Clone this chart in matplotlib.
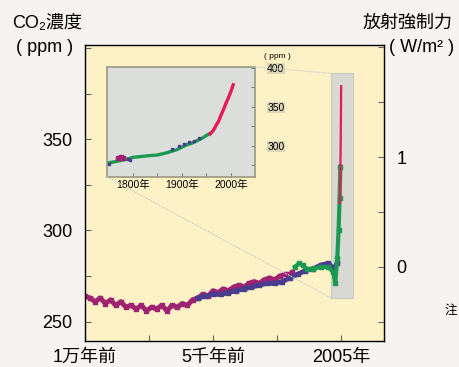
import numpy as np
import matplotlib.pyplot as plt
from matplotlib.patches import Rectangle, ConnectionPatch

plt.rcParams['font.family'] = ['Liberation Sans', 'Noto Sans CJK JP', 'DejaVu Sans']

# main series: years before 2005 vs CO2 ppm
magenta_x = [-10000, -9800, -9600, -9400, -9200, -9000, -8800, -8600, -8400, -8200,
             -8000, -7800, -7600, -7400, -7200, -7000, -6800, -6600, -6400, -6200,
             -6000, -5800, -5600, -5400, -5200, -5000, -4800, -4600, -4400, -4200,
             -4000, -3800, -3600, -3400, -3200, -3000, -2800, -2600, -2400, -2200,
             -2000, -1900]
magenta_y = [264, 263, 261, 263, 260, 262, 259, 261, 258, 259,
             257, 259, 256, 258, 257, 259, 256, 259, 258, 260,
             259, 262, 263, 265, 264, 267, 266, 268, 267, 269,
             270, 269, 271, 272, 271, 273, 274, 273, 275, 276,
             276, 277]
blue_x = [-5600, -5300, -5000, -4700, -4400, -4100, -3800, -3500, -3200, -2900,
          -2600, -2300, -2000, -1700, -1400, -1100, -800, -500, -300, -150]
blue_y = [263, 264, 265, 265, 266, 267, 268, 269, 270, 271,
          271, 272, 274, 276, 278, 279, 281, 282, 279, 282]
green_x = [-1800, -1650, -1500, -1350, -1100, -800, -500, -300, -230, -150, -100, -60, -30]
green_y = [280, 282, 281, 279, 279, 280, 280, 277, 271, 285, 300, 318, 335]
red_x = [-50, -35, -25, -15, -8, 0]
red_y = [315, 325, 338, 350, 362, 379]

# inset series: calendar year vs CO2 ppm
in_green_x = [1750, 1760, 1775, 1790, 1800, 1815, 1830, 1850, 1870, 1890,
              1900, 1910, 1920, 1930, 1940, 1950, 1958]
in_green_y = [278, 279, 281, 283, 285, 286, 287, 288, 291, 295,
              298, 301, 303, 306, 309, 313, 316]
in_blue_x = [1752, 1790, 1795, 1880, 1895, 1905, 1915, 1925, 1935]
in_blue_y = [277, 283, 281, 296, 300, 302, 305, 306, 310]
in_mag_x = [1770, 1775, 1780]
in_mag_y = [284, 286, 284]
in_red_x = [1958, 1965, 1970, 1975, 1980, 1985, 1990, 1995, 2000, 2005]
in_red_y = [315, 320, 326, 331, 339, 346, 354, 361, 369, 378]

x_ticks = [-10000, -7500, -5000, -2500, 0]
x_labels = ['1万年前', '', '5千年前', '', '2005年']
left_ticks = [250, 275, 300, 325, 350, 375, 400]
left_labels = ['250', '', '300', '', '350', '', '']
right_ticks = [-0.5, 0, 0.5, 1, 1.5, 2]
right_labels = ['', '0', '', '1', '', '']
in_x_ticks = [1800, 1850, 1900, 1950, 2000]
in_x_labels = ['1800年', '', '1900年', '', '2000年']
in_y_ticks = [275, 300, 325, 350, 375, 400]
in_y_labels = ['', '300', '', '350', '', '400']

MAG = '#9e2370'
BLUE = '#4a3d8f'
GREEN = '#1a9a50'
RED = '#e8195a'


def main():
    fig = plt.figure(figsize=(4.59, 3.67), dpi=100)
    fig.patch.set_facecolor('#f6f3f0')

    ax = fig.add_axes([0.185, 0.071, 0.652, 0.806])
    ax.set_facecolor('#fcf2c6')
    ax.set_xlim(-10000, 1680)
    ax.set_ylim(239.5, 401.5)

    # grey band around the recent period
    ax.add_patch(Rectangle((-390, 263), 860, 123, facecolor='#d8d9d3',
                           edgecolor='#c9cac2', linewidth=0.8, zorder=1))

    ax.plot(magenta_x, magenta_y, color=MAG, linewidth=3.5, zorder=2)
    ax.scatter(magenta_x, magenta_y, marker='s', s=7, color=MAG, zorder=2)
    ax.plot(blue_x, blue_y, color=BLUE, linewidth=3.5, zorder=3)
    ax.scatter(blue_x, blue_y, marker='s', s=6, color=BLUE, zorder=3)
    ax.plot(green_x, green_y, color=GREEN, linewidth=3, zorder=3)
    ax.scatter(green_x, green_y, marker='s', s=7, color=GREEN, zorder=4)
    ax.plot(red_x, red_y, color=RED, linewidth=1.6, zorder=5)

    ax.set_xticks(x_ticks)
    ax.set_xticklabels(x_labels)
    ax.set_yticks(left_ticks)
    ax.set_yticklabels(left_labels)
    ax.tick_params(direction='in', length=4, width=0.8, color='#666666',
                   labelsize=13, pad=6)
    ax.tick_params(axis='y', pad=9)
    for s in ax.spines.values():
        s.set_color('#333333')
        s.set_linewidth(1.0)

    ax2 = ax.twinx()
    ax2.set_ylim(-0.673, 2.018)
    ax2.set_yticks(right_ticks)
    ax2.set_yticklabels(right_labels)
    ax2.tick_params(direction='in', length=4, width=0.8, color='#666666',
                    labelsize=13, pad=9)

    # inset
    ins = fig.add_axes([0.233, 0.518, 0.322, 0.300])
    ins.set_facecolor('#dcdedb')
    ins.set_xlim(1747, 2049)
    ins.set_ylim(260, 401)
    ins.plot(in_green_x, in_green_y, color=GREEN, linewidth=2.4)
    ins.scatter(in_blue_x, in_blue_y, marker='s', s=4, color=BLUE, zorder=3)
    ins.scatter(in_mag_x, in_mag_y, marker='s', s=6, color=MAG, zorder=3)
    ins.plot(in_red_x, in_red_y, color=RED, linewidth=2.4)
    ins.set_xticks(in_x_ticks)
    ins.set_xticklabels(in_x_labels)
    ins.set_yticks(in_y_ticks)
    ins.set_yticklabels(in_y_labels)
    ins.yaxis.tick_right()
    ins.tick_params(direction='in', length=3, width=0.7, color='#777777',
                    labelsize=7.5, pad=2)
    ins.tick_params(axis='y', pad=9)
    for lab in ins.get_yticklabels():
        lab.set_bbox(dict(facecolor='#c4c2ae', edgecolor='none', pad=0.3, alpha=0.55))
    for s in ins.spines.values():
        s.set_color('#9a9880')
        s.set_linewidth(1.2)
    ins.text(1.155, 1.06, '( ppm )', transform=ins.transAxes, fontsize=6,
             ha='center', va='bottom')

    # faint connectors from inset to band
    for xyA, xyB in [((0, 0), (-390, 263)), ((1, 1), (-390, 386))]:
        con = ConnectionPatch(xyA=xyA, coordsA=ins.transAxes, xyB=xyB,
                              coordsB=ax.transData, color='#c8cfc8',
                              linewidth=0.8, linestyle=':', zorder=0.5)
        fig.add_artist(con)

    fig.text(0.103, 0.937, 'CO\u2082濃度', fontsize=13, ha='center', va='center')
    fig.text(0.098, 0.870, '( ppm )', fontsize=13, ha='center', va='center')
    fig.text(0.889, 0.937, '放射強制力', fontsize=13, ha='center', va='center')
    fig.text(0.918, 0.870, '( W/m\u00b2 )', fontsize=13, ha='center', va='center')
    fig.text(0.969, 0.153, '注', fontsize=9, ha='left', va='center')

    fig.savefig('out.png', dpi=100, facecolor=fig.get_facecolor())


if __name__ == '__main__':
    main()
